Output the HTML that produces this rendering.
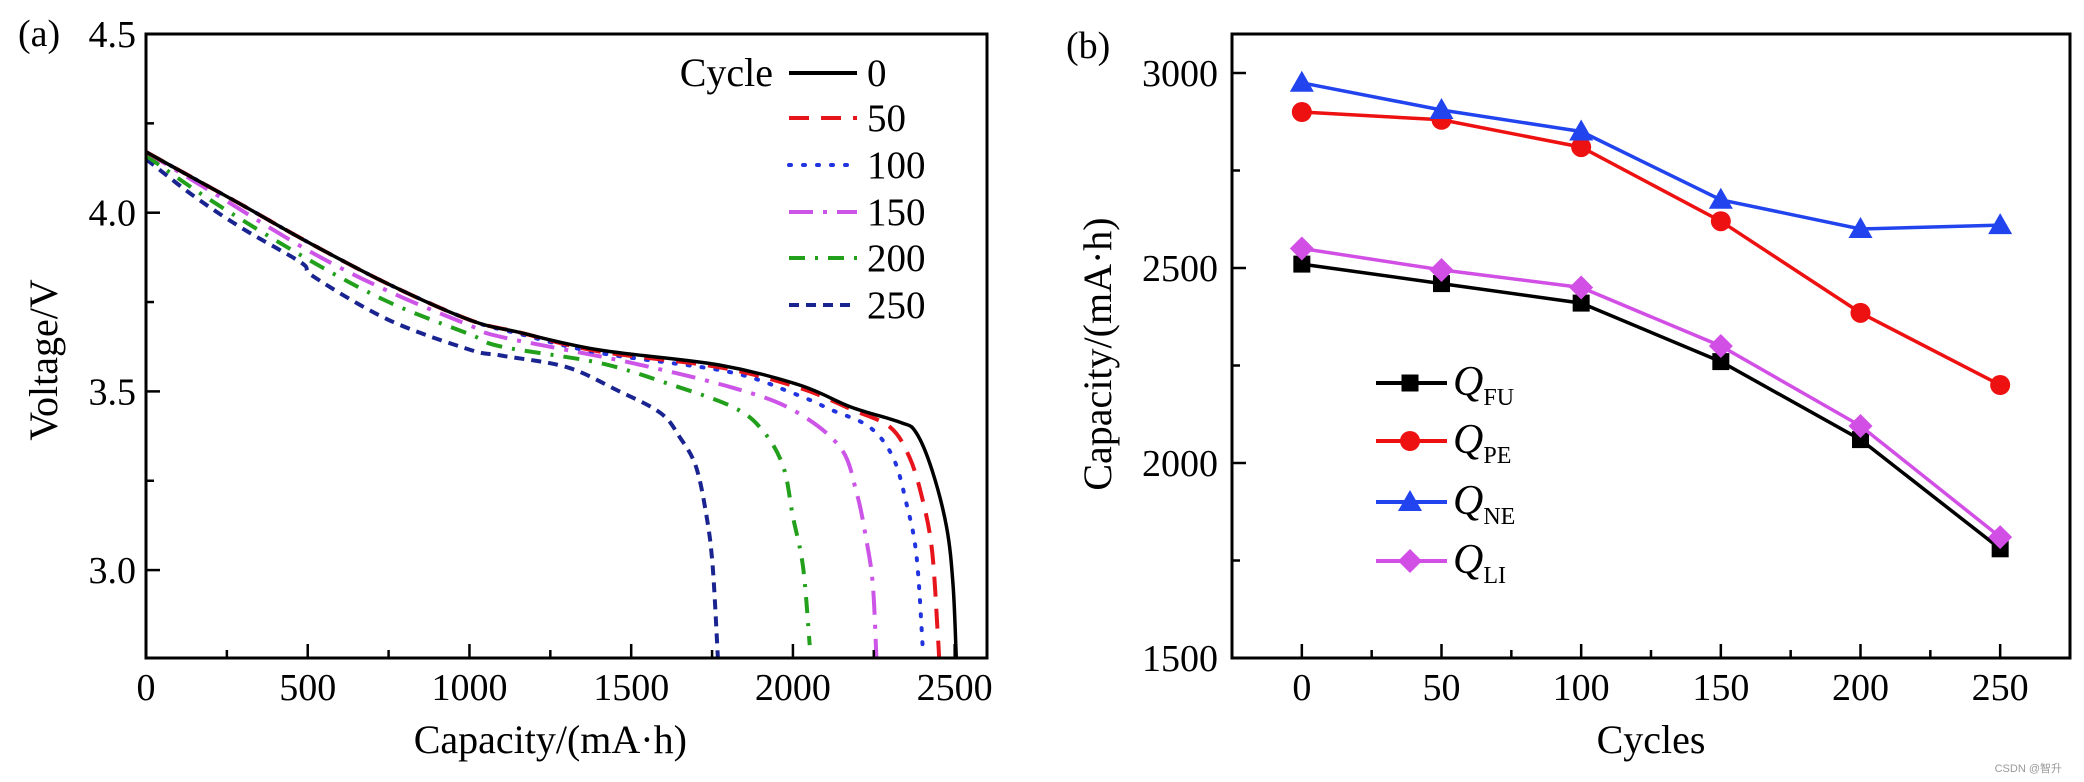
<!DOCTYPE html>
<html><head><meta charset="utf-8">
<style>
html,body{margin:0;padding:0;background:#fff;}
svg{display:block;}
text{font-family:"Liberation Serif","Times New Roman",serif;fill:#000;}
</style></head>
<body>
<svg id="fig" width="2084" height="782" viewBox="0 0 2084 782" xmlns="http://www.w3.org/2000/svg">
<g id="left"></g>
<g id="right"></g>
<text x="2062" y="772" font-size="11" text-anchor="end" style="font-family:'Liberation Sans','Noto Sans CJK SC',sans-serif;fill:#999">CSDN @智升</text>
</svg>
<script>
// ---------- Left chart data ----------
const curveCycles = ["0","50","100","150","200","250"];
const cap0 = [0,100,300,500,750,1000,1150,1400,1770,2020,2180,2330,2380,2430,2475,2495,2505];
const volt0 = [4.17,4.12,4.02,3.918,3.80,3.70,3.666,3.616,3.574,3.518,3.456,3.414,3.386,3.28,3.12,2.96,2.754];
const cap50 = [0,100,300,500,750,1000,1150,1400,1770,2020,2180,2300,2360,2400,2430,2448,2452];
const volt50 = [4.17,4.12,4.02,3.918,3.80,3.70,3.666,3.612,3.568,3.51,3.45,3.40,3.316,3.20,3.056,2.82,2.754];
const cap100 = [0,100,300,500,750,1000,1150,1400,1800,2000,2120,2237,2309,2350,2382,2402];
const volt100 = [4.17,4.12,4.02,3.918,3.80,3.70,3.662,3.608,3.555,3.495,3.448,3.40,3.316,3.19,3.04,2.77];
const cap150 = [0,200,500,750,1000,1100,1500,1815,2000,2145,2196,2227,2247,2258];
const volt150 = [4.17,4.06,3.895,3.78,3.685,3.652,3.58,3.51,3.448,3.345,3.22,3.085,2.96,2.754];
const cap200 = [0,200,500,750,1000,1100,1400,1610,1815,1907,1970,2000,2031,2052];
const volt200 = [4.16,4.035,3.87,3.75,3.66,3.625,3.58,3.523,3.456,3.39,3.29,3.15,3.01,2.79];
const cap250 = [0,150,300,480,520,750,1000,1100,1300,1455,1590,1650,1700,1733,1752,1768];
const volt250 = [4.15,4.045,3.955,3.86,3.82,3.70,3.617,3.60,3.568,3.504,3.44,3.372,3.29,3.15,3.01,2.754];
const xTicksL = [0,500,1000,1500,2000,2500];
const yTicksL = ["3.0","3.5","4.0","4.5"];

// ---------- Right chart data ----------
const cycles = [0,50,100,150,200,250];
const qFU = [2510,2460,2410,2260,2060,1780];
const qPE = [2900,2880,2810,2620,2385,2200];
const qNE = [2975,2905,2850,2675,2600,2610];
const qLI = [2550,2495,2450,2300,2095,1810];
const xTicksR = [0,50,100,150,200,250];
const yTicksR = [1500,2000,2500,3000];

const NS="http://www.w3.org/2000/svg";
function mk(tag,attrs,parent){const e=document.createElementNS(NS,tag);for(const k in attrs)e.setAttribute(k,attrs[k]);parent.appendChild(e);return e;}

// ---------- Left chart ----------
const L=document.getElementById('left');
const lx0=146,lx1=987,ly0=34,ly1=658;
const xL=c=>lx0+(c-0)*(lx1-lx0)/2600;
const yL=v=>ly1-(v-2.754)*(ly1-ly0)/(4.5-2.754);
function smooth(pts){
  let d="M"+pts[0][0].toFixed(1)+","+pts[0][1].toFixed(1);
  for(let i=0;i<pts.length-1;i++){
    const p0=pts[Math.max(0,i-1)],p1=pts[i],p2=pts[i+1],p3=pts[Math.min(pts.length-1,i+2)];
    const t=6;
    const c1=[p1[0]+(p2[0]-p0[0])/t,p1[1]+(p2[1]-p0[1])/t];
    const c2=[p2[0]-(p3[0]-p1[0])/t,p2[1]-(p3[1]-p1[1])/t];
    d+=" C"+c1[0].toFixed(1)+","+c1[1].toFixed(1)+" "+c2[0].toFixed(1)+","+c2[1].toFixed(1)+" "+p2[0].toFixed(1)+","+p2[1].toFixed(1);
  }
  return d;
}
const series=[[cap0,volt0],[cap50,volt50],[cap100,volt100],[cap150,volt150],[cap200,volt200],[cap250,volt250]];
const colors=["#000000","#e8141b","#2233e0","#cc55e8","#22a01c","#1a2490"];
const dashes=["none","20 12","2 12","24 10 4 10","16 10 3 10","10 7"];
const caps=["butt","butt","round","butt","butt","butt"];
const clip=mk('clipPath',{id:'clipL'},L);mk('rect',{x:lx0,y:ly0,width:lx1-lx0,height:ly1-ly0},clip);
for(let i=series.length-1;i>=0;i--){
  const pts=series[i][0].map((c,j)=>[xL(c),yL(series[i][1][j])]);
  const p=mk('path',{d:smooth(pts),fill:'none',stroke:colors[i],'stroke-width':i==0?3.5:4,'stroke-dasharray':dashes[i],'stroke-linecap':caps[i],'clip-path':'url(#clipL)'},L);
  
  
}
const frL=mk('rect',{x:lx0,y:ly0,width:lx1-lx0,height:ly1-ly0,fill:'none',stroke:'#000','stroke-width':3},L);


for(let c=0;c<=2500;c+=250){
  const big=c%500===0;
  mk('line',{x1:xL(c),x2:xL(c),y1:ly1,y2:ly1-(big?14:8),stroke:'#000','stroke-width':2.5},L);
}
xTicksL.forEach(c=>{
  const t=mk('text',{x:xL(c),y:700,'font-size':38,'text-anchor':'middle'},L);t.textContent=c;
  
  
});
for(let v=3.0;v<=4.5001;v+=0.25){
  const big=Math.abs(v*2-Math.round(v*2))<1e-6;
  mk('line',{x1:lx0,x2:lx0+(big?14:8),y1:yL(v),y2:yL(v),stroke:'#000','stroke-width':2.5},L);
}
yTicksL.forEach(s=>{
  const t=mk('text',{x:136,y:yL(parseFloat(s))+13,'font-size':38,'text-anchor':'end'},L);t.textContent=s;
  
  
});
let t=mk('text',{x:xL(1250),y:753,'font-size':40,'text-anchor':'middle'},L);t.textContent="Capacity/(mA·h)";


t=mk('text',{x:0,y:0,'font-size':40,'text-anchor':'middle',transform:'translate(57,360) rotate(-90)'},L);t.textContent="Voltage/V";


t=mk('text',{x:18,y:46,'font-size':38},L);t.textContent="(a)";


t=mk('text',{x:773,y:86,'font-size':40,'text-anchor':'end'},L);t.textContent="Cycle";


const legY=[73,118,165,212,258,305];
curveCycles.forEach((c,i)=>{
  const g=mk('g',{},L);
  
  
  mk('line',{x1:789,x2:857,y1:legY[i],y2:legY[i],stroke:colors[i],'stroke-width':4,'stroke-dasharray':dashes[i],'stroke-linecap':caps[i]},g);
  const tt=mk('text',{x:867,y:legY[i]+13,'font-size':39},g);tt.textContent=c;
});

// ---------- Right chart ----------
const R=document.getElementById('right');
const rx0=1232,rx1=2070,ry0=34,ry1=658;
const xR=c=>rx0+(c+25)*(rx1-rx0)/300;
const yR=v=>ry1-(v-1500)*(ry1-ry0)/1600;
const frR=mk('rect',{x:rx0,y:ry0,width:rx1-rx0,height:ry1-ry0,fill:'none',stroke:'#000','stroke-width':3},R);


for(let c=0;c<=250;c+=25){
  const big=c%50===0;
  mk('line',{x1:xR(c),x2:xR(c),y1:ry1,y2:ry1-(big?14:8),stroke:'#000','stroke-width':2.5},R);
}
xTicksR.forEach(c=>{
  const tt=mk('text',{x:xR(c),y:700,'font-size':38,'text-anchor':'middle'},R);tt.textContent=c;
  
  
});
for(let v=1500;v<=3000;v+=250){
  const big=v%500===0;
  mk('line',{x1:rx0,x2:rx0+(big?14:8),y1:yR(v),y2:yR(v),stroke:'#000','stroke-width':2.5},R);
}
yTicksR.forEach(v=>{
  const tt=mk('text',{x:1218,y:yR(v)+13,'font-size':38,'text-anchor':'end'},R);tt.textContent=v;
  
  
});
t=mk('text',{x:xR(125),y:753,'font-size':40,'text-anchor':'middle'},R);t.textContent="Cycles";


t=mk('text',{x:0,y:0,'font-size':40,'text-anchor':'middle',transform:'translate(1111,354) rotate(-90)'},R);t.textContent="Capacity/(mA·h)";


t=mk('text',{x:1066,y:58,'font-size':38},R);t.textContent="(b)";



function marker(g,type,x,y,col){
  if(type==='square') return mk('rect',{x:x-8.5,y:y-8.5,width:17,height:17,fill:col},g);
  if(type==='circle') return mk('circle',{cx:x,cy:y,r:10,fill:col},g);
  if(type==='tri') return mk('polygon',{points:`${x},${y-12} ${x+12},${y+9} ${x-12},${y+9}`,fill:col},g);
  return mk('polygon',{points:`${x},${y-12} ${x+12},${y} ${x},${y+12} ${x-12},${y}`,fill:col},g);
}
const rSeries=[["FU",qFU,"#000000","square"],["PE",qPE,"#ee1111","circle"],["NE",qNE,"#2244ee","tri"],["LI",qLI,"#d24fe6","diamond"]];
rSeries.forEach(([nm,vals,col,type])=>{
  const g=mk('g',{},R);
  
  
  const pts=cycles.map((c,i)=>xR(c).toFixed(1)+","+yR(vals[i]).toFixed(1)).join(" ");
  mk('polyline',{points:pts,fill:'none',stroke:col,'stroke-width':3.5},g);
  cycles.forEach((c,i)=>{
    const m=marker(g,type,xR(c),yR(vals[i]),col);
    
    
  });
});
const legRY=[383,441,502,561];
rSeries.forEach(([nm,vals,col,type],i)=>{
  const g=mk('g',{},R);
  
  
  mk('line',{x1:1376,x2:1447,y1:legRY[i],y2:legRY[i],stroke:col,'stroke-width':4},g);
  marker(g,type,1410,legRY[i],col);
  const tt=mk('text',{x:1453,y:legRY[i]+12,'font-size':42,'font-style':'italic'},g);
  tt.textContent="Q";
  const sb=mk('tspan',{dy:10,'font-size':24,'font-style':'normal'},tt);sb.textContent=nm;
});
</script>
</body></html>
